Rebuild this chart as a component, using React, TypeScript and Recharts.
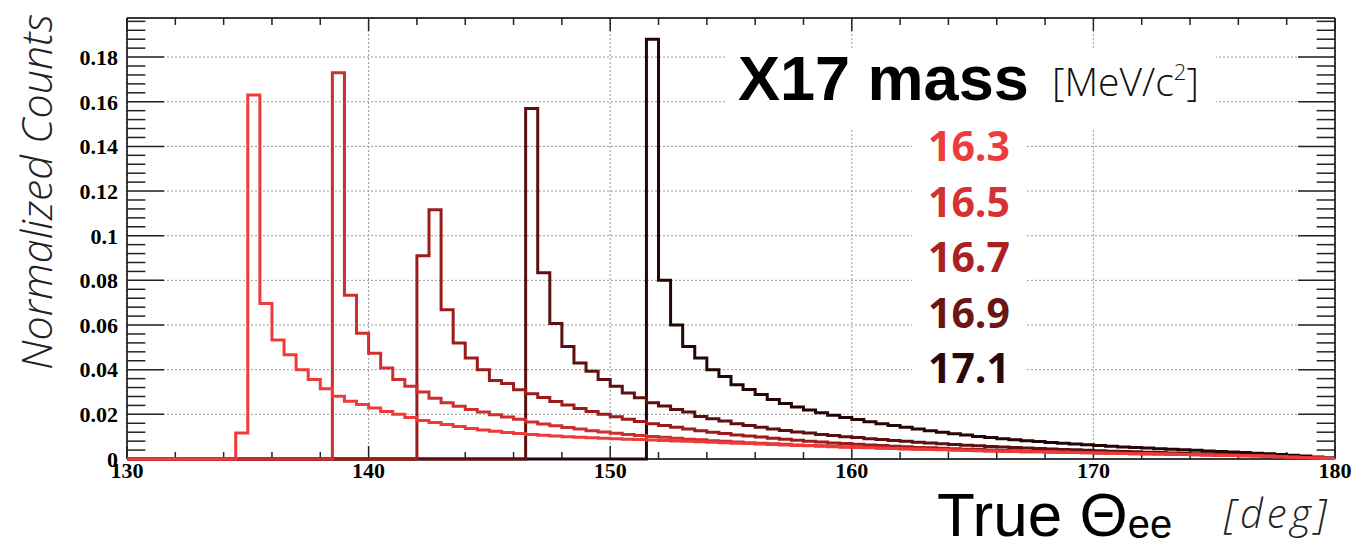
import { LineChart, Line, XAxis, YAxis, CartesianGrid, ReferenceLine } from "recharts";

const ANGLE_MIN = 130;
const ANGLE_MAX = 180;
const BIN_WIDTH = 0.5;

const X_TICKS = [130, 140, 150, 160, 170, 180];
const X_MINOR = [132, 134, 136, 138, 142, 144, 146, 148, 152, 154, 156, 158, 162, 164, 166, 168, 172, 174, 176, 178];
const Y_TICKS = [0, 0.02, 0.04, 0.06, 0.08, 0.1, 0.12, 0.14, 0.16, 0.18];
const Y_MAX = 0.1975;

const MASSES = ["16.3", "16.5", "16.7", "16.9", "17.1"];
const LINE_COLORS = ["#f03a3a", "#cd2e2e", "#9c1c1c", "#5e0f0f", "#260505"];
const TEXT_COLORS = ["#ee3b3b", "#d43232", "#a82222", "#6b1515", "#2c0808"];
// lower edge of first filled bin, per mass
const ONSETS = [134.5, 138.5, 142, 146.5, 151.5];

const COUNTS_163 = [
  0.0116, 0.163, 0.0696, 0.0533, 0.0467, 0.04, 0.0356, 0.0315, 0.0281, 0.0259,
  0.0244, 0.0228, 0.0213, 0.02, 0.0186, 0.0172, 0.0163, 0.0154, 0.0145, 0.0137,
  0.013, 0.0124, 0.0119, 0.0114, 0.011, 0.0106, 0.0103, 0.01, 0.0097, 0.0095,
  0.0093, 0.0091, 0.0089, 0.0087, 0.0085, 0.0083, 0.0081, 0.0079, 0.0077, 0.0075,
  0.0073, 0.0071, 0.0069, 0.0067, 0.0065, 0.0063, 0.0061, 0.0059, 0.0057, 0.0055,
  0.0053, 0.0051, 0.005, 0.0048, 0.0047, 0.0045, 0.0044, 0.0042, 0.0041, 0.004,
  0.0038, 0.0037, 0.0036, 0.0035, 0.0034, 0.0033, 0.0032, 0.0031, 0.003, 0.0029,
  0.0028, 0.0027, 0.0026, 0.0025, 0.0024, 0.0023, 0.0022, 0.0021, 0.002, 0.0019,
  0.0018, 0.0017, 0.0016, 0.0015, 0.0013, 0.0012, 0.001, 0.0008, 0.0006, 0.0004,
  0.0002,
];
const COUNTS_165 = [
  0.173, 0.0733, 0.0563, 0.0474, 0.0407, 0.0356, 0.0326, 0.03, 0.0272, 0.0252,
  0.0236, 0.0222, 0.021, 0.0198, 0.0188, 0.0178, 0.0166, 0.0157, 0.0149, 0.0141,
  0.0134, 0.0127, 0.0121, 0.0115, 0.011, 0.0105, 0.0101, 0.0097, 0.0093, 0.0089,
  0.0086, 0.0082, 0.0079, 0.0076, 0.0073, 0.007, 0.0068, 0.0066, 0.0063, 0.0061,
  0.0059, 0.0057, 0.0055, 0.0053, 0.0051, 0.0049, 0.0048, 0.0046, 0.0045, 0.0043,
  0.0042, 0.004, 0.0039, 0.0038, 0.0036, 0.0035, 0.0034, 0.0033, 0.0032, 0.0031,
  0.003, 0.0029, 0.0028, 0.0027, 0.0026, 0.0025, 0.0024, 0.0023, 0.0022, 0.0021,
  0.002, 0.0019, 0.0018, 0.0017, 0.0016, 0.0015, 0.0014, 0.0012, 0.001, 0.0008,
  0.0006, 0.0004, 0.0002,
];
const COUNTS_167 = [
  0.091, 0.1116, 0.0668, 0.052, 0.0452, 0.04, 0.0352, 0.0338, 0.031, 0.0292,
  0.0275, 0.0258, 0.0242, 0.0226, 0.0213, 0.02, 0.0189, 0.0178, 0.0168, 0.0158,
  0.015, 0.0142, 0.0134, 0.0127, 0.012, 0.0114, 0.0108, 0.0103, 0.0098, 0.0093,
  0.0088, 0.0084, 0.008, 0.0076, 0.0072, 0.0069, 0.0066, 0.0063, 0.006, 0.0057,
  0.0055, 0.0052, 0.005, 0.0048, 0.0046, 0.0044, 0.0042, 0.004, 0.0038, 0.0037,
  0.0035, 0.0034, 0.0033, 0.0031, 0.003, 0.0029, 0.0028, 0.0027, 0.0026, 0.0025,
  0.0024, 0.0023, 0.0022, 0.0021, 0.002, 0.0019, 0.0018, 0.0017, 0.0016, 0.0014,
  0.0013, 0.0011, 0.0009, 0.0007, 0.0005, 0.0003,
];
const COUNTS_169 = [
  0.157, 0.0834, 0.0607, 0.0504, 0.043, 0.0393, 0.0356, 0.0326, 0.0296, 0.0274,
  0.0252, 0.0237, 0.0222, 0.021, 0.019, 0.018, 0.017, 0.0158, 0.015, 0.0142,
  0.0134, 0.0128, 0.0121, 0.0116, 0.011, 0.0105, 0.01, 0.0096, 0.0091, 0.0087,
  0.0083, 0.0079, 0.0075, 0.0072, 0.0068, 0.0065, 0.0062, 0.0059, 0.0056, 0.0054,
  0.0051, 0.0049, 0.0047, 0.0045, 0.0043, 0.0041, 0.0039, 0.0037, 0.0035, 0.0034,
  0.0032, 0.003, 0.0029, 0.0027, 0.0026, 0.0024, 0.0023, 0.0021, 0.002, 0.0018,
  0.0016, 0.0014, 0.0012, 0.001, 0.0007, 0.0005, 0.0003,
];
const COUNTS_171 = [
  0.188, 0.08, 0.06, 0.0504, 0.0452, 0.04, 0.037, 0.0333, 0.0311, 0.0289,
  0.0267, 0.0248, 0.0233, 0.022, 0.0207, 0.0196, 0.0186, 0.0177, 0.0167, 0.0158,
  0.015, 0.0142, 0.0134, 0.0127, 0.012, 0.0113, 0.0107, 0.0101, 0.0096, 0.0091,
  0.0086, 0.0082, 0.0078, 0.0074, 0.007, 0.0067, 0.0064, 0.006, 0.0057, 0.0054,
  0.0051, 0.0049, 0.0046, 0.0044, 0.0041, 0.0039, 0.0036, 0.0034, 0.0031, 0.0029,
  0.0026, 0.0023, 0.002, 0.0017, 0.0013, 0.0009, 0.0005,
];
const COUNTS = [COUNTS_163, COUNTS_165, COUNTS_167, COUNTS_169, COUNTS_171];

function buildRows() {
  const n = Math.round((ANGLE_MAX - ANGLE_MIN) / BIN_WIDTH);
  const rows: Record<string, number>[] = [];
  for (let i = 0; i <= n; i++) {
    const angle = ANGLE_MIN + i * BIN_WIDTH;
    const row: Record<string, number> = { angle };
    MASSES.forEach((m, s) => {
      const k = Math.round((angle - ONSETS[s]) / BIN_WIDTH);
      const c = COUNTS[s];
      row["m" + m] = k < 0 ? 0 : c[Math.min(k, c.length - 1)];
    });
    rows.push(row);
  }
  return rows;
}

const rows = buildRows();
const yMinor: number[] = [];
for (let v = 0.004; v < Y_MAX; v += 0.004) {
  const r = +v.toFixed(3);
  if (!Y_TICKS.some((t) => Math.abs(t - r) < 1e-6)) yMinor.push(r);
}

// inward tick lengths, in axis units (ROOT style frame ticks)
const Y_TICK_MAJ = 1.53; // deg
const Y_TICK_MIN = 0.76;
const X_TICK_MAJ = 0.0058; // counts
const X_TICK_MIN = 0.0031;

type Seg = { key: string; a: { x: number; y: number }; b: { x: number; y: number } };
function frameTicks(): Seg[] {
  const segs: Seg[] = [];
  const yt = (v: number, len: number, tag: string) => {
    segs.push({ key: "l" + tag + v, a: { x: ANGLE_MIN, y: v }, b: { x: ANGLE_MIN + len, y: v } });
    segs.push({ key: "r" + tag + v, a: { x: ANGLE_MAX, y: v }, b: { x: ANGLE_MAX - len, y: v } });
  };
  const xt = (v: number, len: number, tag: string) => {
    segs.push({ key: "b" + tag + v, a: { x: v, y: 0 }, b: { x: v, y: len } });
    segs.push({ key: "t" + tag + v, a: { x: v, y: Y_MAX }, b: { x: v, y: Y_MAX - len } });
  };
  Y_TICKS.forEach((v) => yt(v, Y_TICK_MAJ, "M"));
  yMinor.forEach((v) => yt(v, Y_TICK_MIN, "m"));
  X_TICKS.forEach((v) => xt(v, X_TICK_MAJ, "M"));
  X_MINOR.forEach((v) => xt(v, X_TICK_MIN, "m"));
  return segs;
}
const ticks = frameTicks();

const tickFont = {
  fontFamily: "Liberation Serif",
  fontWeight: 700,
  fontSize: 22,
  fill: "#000",
};

export default function App() {
  const xDom: [number, number] = [ANGLE_MIN, ANGLE_MAX];
  const yDom: [number, number] = [0, Y_MAX];
  return (
    <div style={{ position: "absolute", left: 0, top: 0, width: 1355, height: 548, background: "#fff" }}>
      <LineChart width={1355} height={548} data={rows} margin={{ top: 18, right: 20, bottom: 59, left: 0 }}>
        <CartesianGrid stroke="#999" strokeDasharray="2 2" />
        {/* solid frame round the plot area */}
        <CartesianGrid
          stroke="#000"
          strokeWidth={1.5}
          horizontalCoordinatesGenerator={({ offset }: any) => [offset.top, offset.top + offset.height]}
          verticalCoordinatesGenerator={({ offset }: any) => [offset.left, offset.left + offset.width]}
        />
        <XAxis
          dataKey="angle"
          type="number"
          domain={xDom}
          ticks={X_TICKS}
          interval={0}
          height={30}
          tickLine={false}
          axisLine={false}
          tickSize={0}
          tickMargin={3}
          tick={tickFont}
        />
        <YAxis
          type="number"
          domain={yDom}
          ticks={Y_TICKS}
          interval={0}
          width={127}
          tickLine={false}
          axisLine={false}
          tickSize={0}
          tickMargin={9}
          tick={tickFont}
          tickFormatter={(v: number) => (v === 0 ? "0" : String(+v.toFixed(2)))}
        />
        {ticks.map((t) => (
          <ReferenceLine key={t.key} segment={[t.a, t.b]} stroke="#222" strokeWidth={1.5} ifOverflow="visible" />
        ))}
        {MASSES.map((m, s) => s)
          .reverse()
          .map((s) => (
            <Line
              key={MASSES[s]}
              type="stepAfter"
              dataKey={"m" + MASSES[s]}
              stroke={LINE_COLORS[s]}
              strokeWidth={3}
              dot={false}
              activeDot={false}
              isAnimationActive={false}
            />
          ))}
      </LineChart>
      <svg width={1355} height={548} style={{ position: "absolute", left: 0, top: 0, pointerEvents: "none" }}>
        <rect x={726} y={48} width={490} height={82} fill="#fff" />
        <rect x={912} y={128} width={114} height={264} fill="#fff" />
        <text x={738} y={100} fontFamily="Liberation Sans" fontWeight={700} fontSize={63} fill="#000">
          X17 mass
        </text>
        <text x={1052} y={96} fontFamily="Open Sans" fontWeight={300} fontSize={39} fill="#111">
          [MeV/c
          <tspan dy={-16} fontSize={22}>2</tspan>
          <tspan dy={16}>]</tspan>
        </text>
        {MASSES.map((m, s) => (
          <text
            key={m}
            x={969}
            y={161 + s * 55.5}
            textAnchor="middle"
            fontFamily="Open Sans"
            fontWeight={700}
            fontSize={41}
            fill={TEXT_COLORS[s]}
          >
            {m}
          </text>
        ))}
        <text
          x={52}
          y={192}
          transform="rotate(-90 52 192)"
          textAnchor="middle"
          fontFamily="Open Sans"
          fontStyle="italic"
          fontWeight={300}
          fontSize={43}
          fill="#222"
        >
          Normalized Counts
        </text>
        <text x={937} y={536} fontFamily="Liberation Sans" fontSize={62} fill="#000">
          True Θ
          <tspan fontSize={40} dy={2}>ee</tspan>
        </text>
        <text x={1224} y={528} fontFamily="Open Sans" fontStyle="italic" fontWeight={300} fontSize={40} letterSpacing={4} fill="#222">
          [deg]
        </text>
      </svg>
    </div>
  );
}
